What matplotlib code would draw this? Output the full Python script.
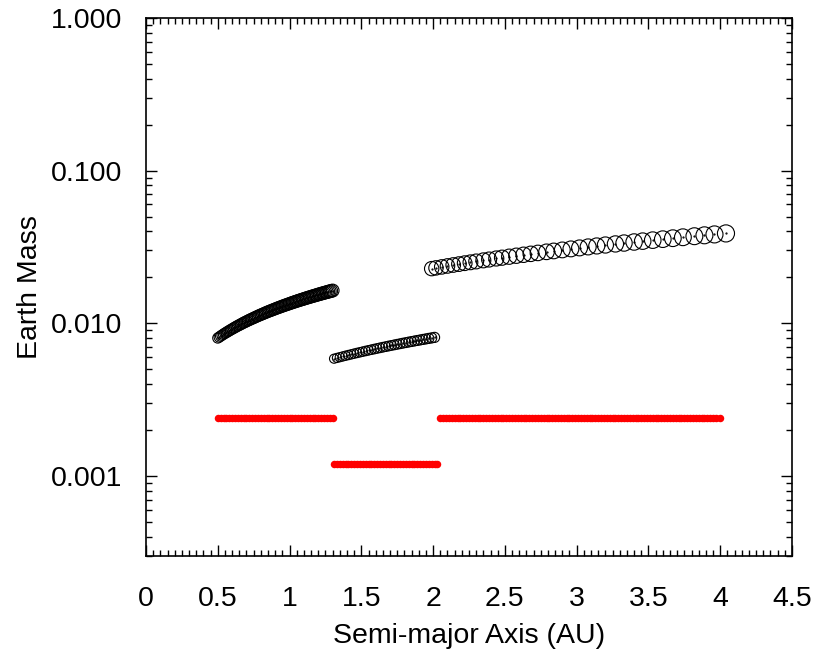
import matplotlib
matplotlib.use("Agg")
import matplotlib.pyplot as plt
import numpy as np
from matplotlib.ticker import FixedLocator, MultipleLocator, FuncFormatter, LogLocator, NullFormatter

# ---- data ----
# black open circles: three groups of bodies (semi-major axis in AU, mass in Earth masses)
a_group1 = [0.50, 0.51, 0.52, 0.53, 0.54, 0.55, 0.56, 0.57, 0.58, 0.59, 0.60, 0.61, 0.62, 0.63,
            0.64, 0.65, 0.66, 0.67, 0.68, 0.69, 0.70, 0.71, 0.72, 0.73, 0.74, 0.75, 0.76, 0.77,
            0.78, 0.79, 0.80, 0.81, 0.82, 0.83, 0.84, 0.85, 0.86, 0.87, 0.88, 0.89, 0.90, 0.91,
            0.92, 0.93, 0.94, 0.95, 0.96, 0.97, 0.98, 0.99, 1.00, 1.01, 1.02, 1.03, 1.04, 1.05,
            1.06, 1.07, 1.08, 1.09, 1.10, 1.11, 1.12, 1.13, 1.14, 1.15, 1.16, 1.17, 1.18, 1.19,
            1.20, 1.21, 1.22, 1.23, 1.24, 1.25, 1.26, 1.27, 1.28, 1.29, 1.30]
m_group1 = [0.00800, 0.00812, 0.00824, 0.00836, 0.00848, 0.00860, 0.00871, 0.00883, 0.00894,
            0.00906, 0.00917, 0.00929, 0.00940, 0.00952, 0.00963, 0.00974, 0.00985, 0.00997,
            0.01008, 0.01019, 0.01030, 0.01041, 0.01052, 0.01063, 0.01073, 0.01084, 0.01095,
            0.01106, 0.01117, 0.01128, 0.01138, 0.01149, 0.01159, 0.01170, 0.01181, 0.01192,
            0.01202, 0.01212, 0.01222, 0.01233, 0.01243, 0.01254, 0.01264, 0.01274, 0.01284,
            0.01295, 0.01305, 0.01315, 0.01325, 0.01335, 0.01345, 0.01356, 0.01366, 0.01376,
            0.01386, 0.01396, 0.01406, 0.01416, 0.01425, 0.01435, 0.01445, 0.01455, 0.01465,
            0.01475, 0.01484, 0.01494, 0.01504, 0.01514, 0.01523, 0.01533, 0.01543, 0.01553,
            0.01562, 0.01572, 0.01581, 0.01591, 0.01600, 0.01610, 0.01619, 0.01629, 0.01638]

a_group2 = [1.31, 1.33, 1.35, 1.37, 1.39, 1.41, 1.43, 1.45, 1.47, 1.49, 1.51, 1.53, 1.55, 1.57,
            1.59, 1.61, 1.63, 1.65, 1.67, 1.69, 1.71, 1.73, 1.75, 1.77, 1.79, 1.81, 1.83, 1.85,
            1.87, 1.89, 1.91, 1.93, 1.95, 1.97, 1.99, 2.01]
m_group2 = [0.005860, 0.005927, 0.005994, 0.006060, 0.006126, 0.006192, 0.006258, 0.006324,
            0.006389, 0.006454, 0.006519, 0.006584, 0.006648, 0.006712, 0.006776, 0.006840,
            0.006904, 0.006967, 0.007030, 0.007093, 0.007156, 0.007219, 0.007281, 0.007344,
            0.007406, 0.007468, 0.007530, 0.007591, 0.007653, 0.007714, 0.007775, 0.007836,
            0.007897, 0.007958, 0.008018, 0.008079]

a_group3 = [1.99, 2.02, 2.06, 2.10, 2.14, 2.18, 2.22, 2.26, 2.30, 2.35, 2.39, 2.44, 2.48, 2.53,
            2.58, 2.63, 2.68, 2.73, 2.79, 2.84, 2.90, 2.96, 3.02, 3.08, 3.14, 3.20, 3.27, 3.33,
            3.40, 3.46, 3.53, 3.60, 3.67, 3.74, 3.82, 3.89, 3.96, 4.04]
m_group3 = [0.02280, 0.02306, 0.02340, 0.02374, 0.02408, 0.02441, 0.02475, 0.02508, 0.02541,
            0.02583, 0.02616, 0.02657, 0.02689, 0.02730, 0.02770, 0.02810, 0.02850, 0.02890,
            0.02938, 0.02977, 0.03024, 0.03071, 0.03117, 0.03164, 0.03210, 0.03256, 0.03309,
            0.03354, 0.03407, 0.03452, 0.03504, 0.03556, 0.03608, 0.03660, 0.03718, 0.03769,
            0.03820, 0.03878]

# red filled dots: three groups at constant mass
a_red1 = [0.50, 0.52, 0.54, 0.56, 0.58, 0.60, 0.62, 0.64, 0.66, 0.68, 0.70, 0.72, 0.74, 0.76,
          0.78, 0.80, 0.82, 0.84, 0.86, 0.88, 0.90, 0.92, 0.94, 0.96, 0.98, 1.00, 1.02, 1.04,
          1.06, 1.08, 1.10, 1.12, 1.14, 1.16, 1.18, 1.20, 1.22, 1.24, 1.26, 1.28, 1.30]
a_red2 = [1.31, 1.33, 1.35, 1.37, 1.39, 1.41, 1.43, 1.45, 1.47, 1.49, 1.51, 1.53, 1.55, 1.57,
          1.59, 1.61, 1.63, 1.65, 1.67, 1.69, 1.71, 1.73, 1.75, 1.77, 1.79, 1.81, 1.83, 1.85,
          1.87, 1.89, 1.91, 1.93, 1.95, 1.97, 1.99, 2.01, 2.03]
a_red3 = [2.05, 2.07, 2.09, 2.11, 2.13, 2.15, 2.17, 2.19, 2.21, 2.23, 2.25, 2.27, 2.29, 2.31,
          2.33, 2.35, 2.37, 2.39, 2.41, 2.43, 2.45, 2.47, 2.49, 2.51, 2.53, 2.55, 2.57, 2.59,
          2.61, 2.63, 2.65, 2.67, 2.69, 2.71, 2.73, 2.75, 2.77, 2.79, 2.81, 2.83, 2.85, 2.87,
          2.89, 2.91, 2.93, 2.95, 2.97, 2.99, 3.01, 3.03, 3.05, 3.07, 3.09, 3.11, 3.13, 3.15,
          3.17, 3.19, 3.21, 3.23, 3.25, 3.27, 3.29, 3.31, 3.33, 3.35, 3.37, 3.39, 3.41, 3.43,
          3.45, 3.47, 3.49, 3.51, 3.53, 3.55, 3.57, 3.59, 3.61, 3.63, 3.65, 3.67, 3.69, 3.71,
          3.73, 3.75, 3.77, 3.79, 3.81, 3.83, 3.85, 3.87, 3.89, 3.91, 3.93, 3.95, 3.97, 4.00]
m_red = [0.0024, 0.0012, 0.0024]

x_ticks = [0, 0.5, 1, 1.5, 2, 2.5, 3, 3.5, 4, 4.5]
y_ticks = [0.001, 0.01, 0.1, 1.0]

# ---- figure ----
plt.rcParams['font.family'] = ['Liberation Sans', 'DejaVu Sans']
fig = plt.figure(figsize=(8.19, 6.60), dpi=100)
ax = fig.add_axes([146/819, 1-555.7/660, (792-146)/819, (555.7-18)/660])

black_a = np.array(a_group1 + a_group2 + a_group3)
black_m = np.array(m_group1 + m_group2 + m_group3)
# marker diameter grows with mass^(1/3), as in the reference
sizes = (36.4 * black_m ** (1/3)) ** 2
ax.scatter(black_a, black_m, s=sizes, facecolors='none', edgecolors='black',
           linewidths=0.8, zorder=3)
ax.plot(black_a, black_m, linestyle='none', marker='o', markersize=0.6,
        color='black', zorder=3)

for xs, m in zip([a_red1, a_red2, a_red3], m_red):
    ax.plot(xs, [m] * len(xs), linestyle='none', marker='o', markersize=5.4,
            color='#ff0000', markeredgewidth=0, zorder=2)

ax.set_yscale('log')
ax.set_xlim(0, 4.5)
ax.set_ylim(0.0003, 1.0)

ax.xaxis.set_major_locator(FixedLocator(x_ticks))
ax.xaxis.set_minor_locator(MultipleLocator(0.05))
ax.xaxis.set_major_formatter(FuncFormatter(lambda v, p: f"{v:g}"))
ax.yaxis.set_major_locator(FixedLocator(y_ticks))
ax.yaxis.set_minor_locator(LogLocator(base=10, subs=np.arange(2, 10)))
ax.yaxis.set_minor_formatter(NullFormatter())
ax.yaxis.set_major_formatter(FuncFormatter(lambda v, p: f"{v:.3f}"))

ax.tick_params(which='both', direction='in', top=True, right=True, width=1.0,
               labelsize=20.5, color='black')
ax.tick_params(which='major', length=8)
ax.tick_params(which='minor', length=4.5)
ax.tick_params(axis='y', which='major', pad=17)
ax.tick_params(axis='x', which='major', pad=22)
for s in ax.spines.values():
    s.set_linewidth(1.2)

ax.set_xlabel('Semi-major Axis (AU)', fontsize=20.5, labelpad=8)
ax.set_ylabel('Earth Mass', fontsize=20.5, labelpad=6)

fig.savefig('out.png', dpi=100)
